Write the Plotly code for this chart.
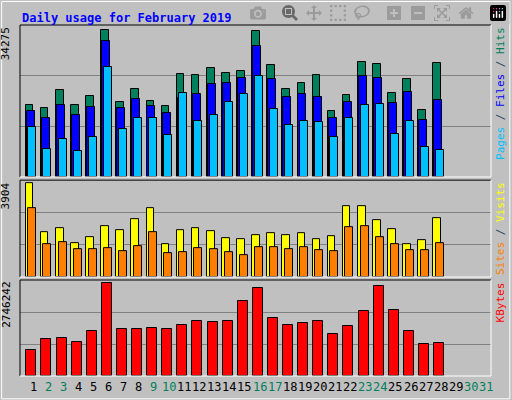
import plotly.graph_objects as go

days = list(range(1, 29))
hits = [16828,16130,20318,16828,18922,34275,17526,20551,17759,16596,24041,23808,25436,24273,24738,34044,26134,20551,21946,23808,15432,19155,26832,26367,19620,22877,15665,26600]
files = [15432,13804,16828,14502,16363,31717,16130,18224,16596,14967,18457,19387,21713,21946,23110,30555,22877,18689,19387,18689,13804,17526,23575,23110,17294,19853,13339,17991]
pages = [11710,6592,8918,6126,9384,25669,11245,13804,13804,9849,19620,13106,14502,17526,19387,23575,15898,12175,13106,12873,9384,13804,16828,17061,10082,13106,7057,6359]
visits = [3904,1867,2037,1400,1655,2122,1952,2419,2885,1358,1952,2037,1910,1613,1570,1740,1825,1740,1825,1570,1697,2970,2970,2376,1994,1358,1528,2461]
sites = [2885,1358,1443,1146,1146,1188,1061,1273,1867,976,1018,1188,1146,1018,933,1230,1230,1146,1230,1103,1061,2079,2122,1655,1358,1103,1103,1400]
kbytes = [784602,1086372,1116549,995841,1327788,2746242,1388142,1388142,1418319,1388142,1508850,1629558,1599381,1629558,2233098,2595222,1720089,1508850,1569204,1629558,1237257,1478673,1931328,2655576,1961505,1327788,935487,965664]
weekend = [2,3,9,10,16,17,23,24,30,31]

MONO = "DejaVu Sans Mono"
fig = go.Figure()
def bar(y, color, off, w, ax):
    fig.add_trace(go.Bar(x=days, y=y, marker=dict(color=color, line=dict(color="black", width=1)),
                         offset=off, width=w, xaxis="x", yaxis=ax, showlegend=False))
bar(hits, "#00805C", -0.48, 0.5, "y")
bar(files, "#0000FF", -0.42, 0.53, "y")
bar(pages, "#00C0FF", -0.31, 0.53, "y")
bar(visits, "#FFFF00", -0.48, 0.5, "y2")
bar(sites, "#FF8000", -0.31, 0.53, "y2")
bar(kbytes, "#FF0000", -0.44, 0.66, "y3")

def yax(dom, mx):
    rng = mx * 1.035
    return dict(domain=dom, range=[0, rng], tickvals=[rng/3, 2*rng/3], showticklabels=False,
                gridcolor="#808080", gridwidth=1, zeroline=False, showline=False, fixedrange=True)

fig.update_layout(
    width=512, height=400, margin=dict(l=20, r=21, t=25, b=24),
    paper_bgcolor="#C0C0C0", plot_bgcolor="#C0C0C0", barmode="overlay", bargap=0,
    xaxis=dict(range=[0.139, 31.33], showticklabels=False, showgrid=False, zeroline=False),
    yaxis=yax([0.567, 1], 34275),
    yaxis2=yax([0.282, 0.558], 3904),
    yaxis3=yax([0, 0.2735], 2746242),
    font=dict(family=MONO),
)

ann = []
for d in range(1, 32):
    ann.append(dict(x=d, y=-0.005, xref="x", yref="paper", yanchor="top", showarrow=False,
                    text=str(d), font=dict(size=12, color="#00805C" if d in weekend else "black")))
ann.append(dict(x=0, y=1.045, xref="paper", yref="paper", xanchor="left", showarrow=False,
                text="<b>Daily usage for February 2019</b>", font=dict(size=12, color="#0000FF")))
for top, txt in [(1, "34275"), (0.558, "3904"), (0.2735, "2746242")]:
    ann.append(dict(x=-0.012, y=top, xref="paper", yref="paper", xanchor="right", yanchor="top",
                    textangle=-90, showarrow=False, text=txt, font=dict(size=11, color="black")))
right = [(1, "<span style='color:#00C0FF'>Pages</span> / <span style='color:#0000FF'>Files</span> / <span style='color:#00805C'>Hits</span>"),
         (0.558, "<span style='color:#FF8000'>Sites</span> / <span style='color:#FFFF00'>Visits</span>"),
         (0.2735, "<span style='color:#FF0000'>KBytes</span>")]
for top, txt in right:
    ann.append(dict(x=1.002, y=top, xref="paper", yref="paper", xanchor="left", yanchor="top",
                    textangle=-90, showarrow=False, text=txt, font=dict(size=11)))
fig.update_layout(annotations=ann)

shapes = [dict(type="rect", xref="paper", yref="paper", x0=-0.039, x1=1.04, y0=-0.065, y1=1.067,
               line=dict(color="white", width=1))]
for y0, y1 in [(0.567, 1), (0.282, 0.558), (0, 0.2735)]:
    shapes.append(dict(type="line", xref="paper", yref="paper", x0=0, x1=1, y0=y1, y1=y1, line=dict(color="black", width=1)))
    shapes.append(dict(type="line", xref="paper", yref="paper", x0=0, x1=0, y0=y0, y1=y1, line=dict(color="black", width=1)))
    shapes.append(dict(type="line", xref="paper", yref="paper", x0=0, x1=1, y0=y0, y1=y0, line=dict(color="white", width=1)))
    shapes.append(dict(type="line", xref="paper", yref="paper", x0=1, x1=1, y0=y0, y1=y1, line=dict(color="white", width=1)))
fig.update_layout(shapes=shapes)
fig.write_html("out.html")

with open("out.html", encoding="utf-8") as f:
    html = f.read()
html = html.replace("<head>", "<head><style>html,body{margin:0;padding:0;overflow:hidden}</style>", 1)
with open("out.html", "w", encoding="utf-8") as f:
    f.write(html)
